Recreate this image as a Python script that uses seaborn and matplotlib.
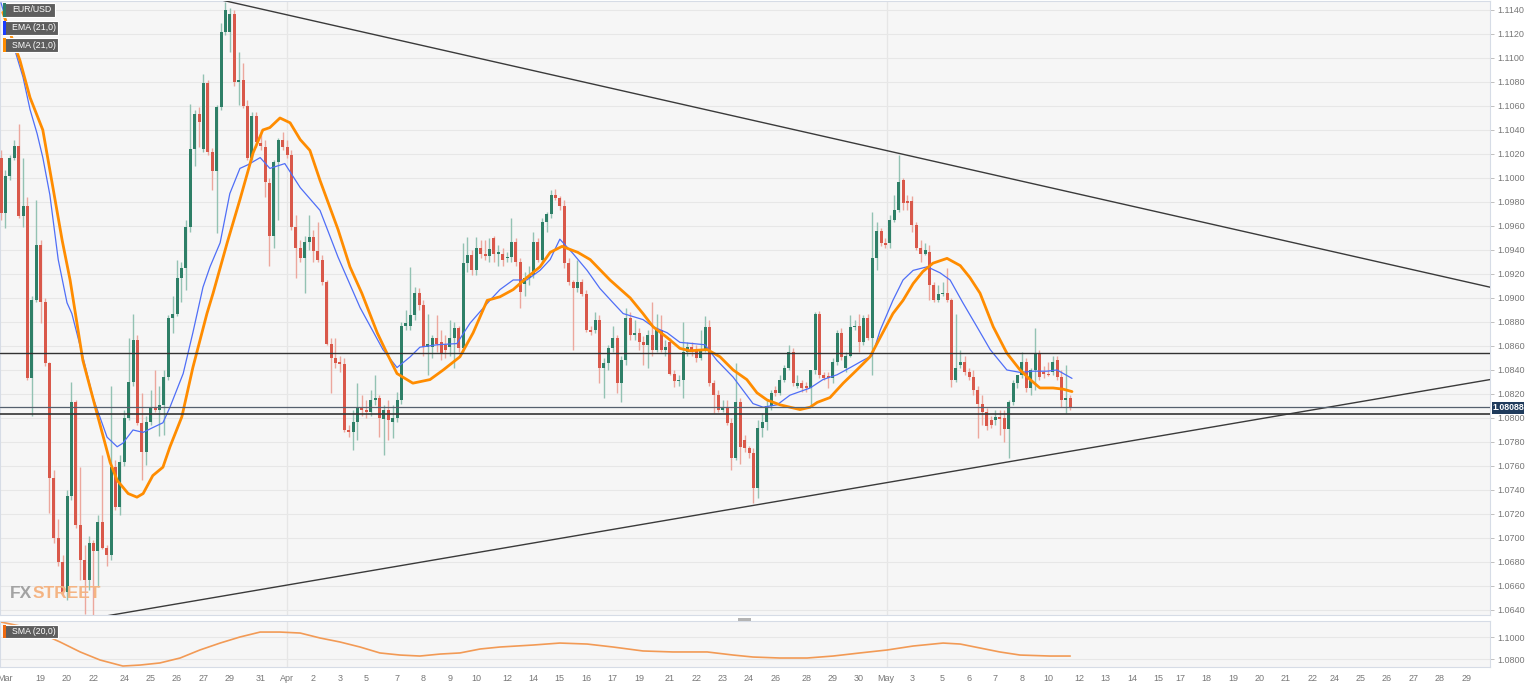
import numpy as np
import pandas as pd
import seaborn as sns
import matplotlib
matplotlib.use("Agg")
import matplotlib.pyplot as plt
from matplotlib.patches import Rectangle

# EUR/USD 4h candles
opens = [1.1017, 1.0971, 1.1002, 1.1017, 1.1027, 1.0968, 1.0977, 1.0833, 1.0898, 1.0944,
         1.0897, 1.0846, 1.0750, 1.0700, 1.0680, 1.0655, 1.0735, 1.0813, 1.0711, 1.0682,
         1.0665, 1.0696, 1.0689, 1.0713, 1.0692, 1.0686, 1.0759, 1.0726, 1.0763, 1.0800,
         1.0830, 1.0865, 1.0796, 1.0772, 1.0797, 1.0808, 1.0807, 1.0811, 1.0834, 1.0883,
         1.0887, 1.0917, 1.0925, 1.0959, 1.1024, 1.1053, 1.1024, 1.1079, 1.1022, 1.1006,
         1.1059, 1.1122, 1.1122, 1.1137, 1.1080, 1.1082, 1.1060, 1.1017, 1.1052, 1.1029,
         1.1026, 1.0996, 1.0952, 1.1013, 1.1032, 1.1026, 1.1019, 1.0959, 1.0942, 1.0933,
         1.0947, 1.0951, 1.0939, 1.0932, 1.0913, 1.0862, 1.0850, 1.0847, 1.0845, 1.0790,
         1.0788, 1.0797, 1.0809, 1.0807, 1.0805, 1.0815, 1.0817, 1.0799, 1.0807, 1.0797,
         1.0800, 1.0815, 1.0877, 1.0877, 1.0886, 1.0904, 1.0894, 1.0859, 1.0859, 1.0867,
         1.0863, 1.0861, 1.0859, 1.0867, 1.0875, 1.0858, 1.0929, 1.0936, 1.0923, 1.0942,
         1.0937, 1.0935, 1.0950, 1.0937, 1.0937, 1.0933, 1.0934, 1.0947, 1.0930, 1.0912,
         1.0917, 1.0919, 1.0947, 1.0932, 1.0963, 1.0970, 1.0986, 1.0983, 1.0977, 1.0929,
         1.0913, 1.0908, 1.0913, 1.0903, 1.0873, 1.0873, 1.0882, 1.0842, 1.0846, 1.0858,
         1.0867, 1.0829, 1.0848, 1.0883, 1.0869, 1.0871, 1.0863, 1.0861, 1.0869, 1.0857,
         1.0873, 1.0857, 1.0863, 1.0837, 1.0831, 1.0832, 1.0855, 1.0859, 1.0857, 1.0850,
         1.0857, 1.0876, 1.0829, 1.0819, 1.0807, 1.0809, 1.0796, 1.0767, 1.0813, 1.0782,
         1.0775, 1.0771, 1.0742, 1.0792, 1.0797, 1.0810, 1.0823, 1.0821, 1.0832, 1.0842,
         1.0855, 1.0827, 1.0829, 1.0827, 1.0825, 1.0840, 1.0887, 1.0836, 1.0835, 1.0833,
         1.0847, 1.0871, 1.0842, 1.0852, 1.0876, 1.0877, 1.0863, 1.0883, 1.0867, 1.0933,
         1.0956, 1.0946, 1.0946, 1.0965, 1.0973, 1.0998, 1.0981, 1.0981, 1.0961, 1.0942,
         1.0937, 1.0938, 1.0911, 1.0898, 1.0903, 1.0904, 1.0898, 1.0832, 1.0844, 1.0847,
         1.0838, 1.0834, 1.0823, 1.0812, 1.0805, 1.0798, 1.0798, 1.0801, 1.0800, 1.0791,
         1.0813, 1.0829, 1.0836, 1.0847, 1.0825, 1.0840, 1.0854, 1.0838, 1.0837, 1.0838,
         1.0848, 1.0834, 1.0815, 1.0817]
highs = [1.1023, 1.1007, 1.1019, 1.1032, 1.1045, 1.1017, 1.0984, 1.0902, 1.0982, 1.0948,
         1.0900, 1.0847, 1.0757, 1.0716, 1.0686, 1.0740, 1.0830, 1.0815, 1.0759, 1.0694,
         1.0702, 1.0698, 1.0719, 1.0769, 1.0694, 1.0827, 1.0765, 1.0769, 1.0807, 1.0867,
         1.0887, 1.0869, 1.0821, 1.0802, 1.0823, 1.0840, 1.0827, 1.0840, 1.0886, 1.0902,
         1.0932, 1.0930, 1.0965, 1.1062, 1.1057, 1.1059, 1.1087, 1.1082, 1.1025, 1.1061,
         1.1129, 1.1147, 1.1142, 1.1140, 1.1105, 1.1096, 1.1065, 1.1055, 1.1055, 1.1040,
         1.1032, 1.1000, 1.1015, 1.1033, 1.1038, 1.1032, 1.1023, 1.0969, 1.0948, 1.0952,
         1.0969, 1.0957, 1.0963, 1.0936, 1.0915, 1.0867, 1.0867, 1.0852, 1.0850, 1.0794,
         1.0807, 1.0829, 1.0819, 1.0815, 1.0823, 1.0836, 1.0819, 1.0811, 1.0815, 1.0811,
         1.0822, 1.0880, 1.0890, 1.0926, 1.0909, 1.0908, 1.0898, 1.0887, 1.0869, 1.0886,
         1.0873, 1.0869, 1.0882, 1.0880, 1.0877, 1.0946, 1.0951, 1.0940, 1.0951, 1.0948,
         1.0948, 1.0950, 1.0952, 1.0944, 1.0942, 1.0938, 1.0967, 1.0950, 1.0933, 1.0922,
         1.0927, 1.0955, 1.0950, 1.0967, 1.0972, 1.0990, 1.0991, 1.0985, 1.0982, 1.0933,
         1.0915, 1.0932, 1.0916, 1.0907, 1.0877, 1.0888, 1.0886, 1.0850, 1.0861, 1.0877,
         1.0869, 1.0852, 1.0892, 1.0888, 1.0882, 1.0875, 1.0868, 1.0873, 1.0897, 1.0887,
         1.0886, 1.0865, 1.0867, 1.0840, 1.0836, 1.0880, 1.0863, 1.0863, 1.0861, 1.0873,
         1.0885, 1.0882, 1.0832, 1.0823, 1.0815, 1.0815, 1.0800, 1.0846, 1.0817, 1.0786,
         1.0777, 1.0775, 1.0798, 1.0804, 1.0815, 1.0823, 1.0827, 1.0836, 1.0844, 1.0861,
         1.0858, 1.0836, 1.0832, 1.0830, 1.0840, 1.0888, 1.0889, 1.0838, 1.0838, 1.0850,
         1.0873, 1.0875, 1.0855, 1.0886, 1.0882, 1.0887, 1.0886, 1.0887, 1.0972, 1.0963,
         1.0958, 1.0950, 1.0969, 1.0986, 1.1019, 1.1000, 1.0986, 1.0985, 1.0963, 1.0948,
         1.0946, 1.0944, 1.0913, 1.0911, 1.0913, 1.0925, 1.0900, 1.0887, 1.0857, 1.0852,
         1.0842, 1.0840, 1.0827, 1.0819, 1.0808, 1.0802, 1.0807, 1.0807, 1.0807, 1.0815,
         1.0832, 1.0836, 1.0855, 1.0850, 1.0842, 1.0875, 1.0857, 1.0843, 1.0847, 1.0852,
         1.0852, 1.0840, 1.0844, 1.0819]
lows = [1.0965, 1.0958, 1.0998, 1.1015, 1.0967, 1.0959, 1.0832, 1.0802, 1.0897, 1.0879,
        1.0843, 1.0721, 1.0696, 1.0677, 1.0652, 1.0648, 1.0732, 1.0708, 1.0665, 1.0637,
        1.0657, 1.0636, 1.0659, 1.0691, 1.0677, 1.0682, 1.0723, 1.0719, 1.0760, 1.0798,
        1.0827, 1.0794, 1.0748, 1.0761, 1.0794, 1.0805, 1.0785, 1.0786, 1.0832, 1.0871,
        1.0885, 1.0897, 1.0907, 1.0955, 1.1010, 1.1026, 1.1022, 1.1019, 1.0990, 1.0954,
        1.1057, 1.1119, 1.1105, 1.1077, 1.1061, 1.1058, 1.1015, 1.1015, 1.1026, 1.1023,
        1.0984, 1.0927, 1.0942, 1.0965, 1.1023, 1.1017, 1.0957, 1.0917, 1.0930, 1.0904,
        1.0940, 1.0930, 1.0930, 1.0911, 1.0861, 1.0821, 1.0842, 1.0838, 1.0788, 1.0784,
        1.0773, 1.0782, 1.0802, 1.0800, 1.0802, 1.0811, 1.0784, 1.0769, 1.0782, 1.0783,
        1.0797, 1.0812, 1.0873, 1.0873, 1.0882, 1.0890, 1.0852, 1.0836, 1.0850, 1.0855,
        1.0848, 1.0850, 1.0852, 1.0842, 1.0855, 1.0855, 1.0922, 1.0919, 1.0919, 1.0933,
        1.0932, 1.0930, 1.0930, 1.0927, 1.0927, 1.0930, 1.0930, 1.0927, 1.0892, 1.0902,
        1.0911, 1.0917, 1.0930, 1.0930, 1.0955, 1.0967, 1.0982, 1.0973, 1.0925, 1.0911,
        1.0857, 1.0905, 1.0902, 1.0872, 1.0869, 1.0871, 1.0829, 1.0817, 1.0840, 1.0855,
        1.0821, 1.0813, 1.0844, 1.0865, 1.0865, 1.0857, 1.0844, 1.0842, 1.0852, 1.0855,
        1.0855, 1.0852, 1.0836, 1.0826, 1.0827, 1.0817, 1.0852, 1.0852, 1.0847, 1.0848,
        1.0855, 1.0827, 1.0804, 1.0805, 1.0805, 1.0794, 1.0757, 1.0765, 1.0762, 1.0772,
        1.0767, 1.0729, 1.0733, 1.0784, 1.0790, 1.0807, 1.0818, 1.0819, 1.0830, 1.0840,
        1.0827, 1.0825, 1.0822, 1.0822, 1.0811, 1.0837, 1.0833, 1.0832, 1.0825, 1.0829,
        1.0844, 1.0848, 1.0838, 1.0851, 1.0873, 1.0855, 1.0861, 1.0865, 1.0836, 1.0923,
        1.0943, 1.0942, 1.0942, 1.0963, 1.0972, 1.0973, 1.0973, 1.0955, 1.0940, 1.0930,
        1.0936, 1.0898, 1.0897, 1.0897, 1.0902, 1.0897, 1.0826, 1.0830, 1.0842, 1.0836,
        1.0832, 1.0819, 1.0783, 1.0794, 1.0790, 1.0792, 1.0794, 1.0786, 1.0780, 1.0767,
        1.0811, 1.0825, 1.0833, 1.0822, 1.0819, 1.0823, 1.0832, 1.0833, 1.0835, 1.0836,
        1.0832, 1.0809, 1.0804, 1.0807]
closes = [1.0971, 1.1002, 1.1017, 1.1027, 1.0968, 1.0977, 1.0833, 1.0898, 1.0944, 1.0897,
          1.0846, 1.0750, 1.0700, 1.0680, 1.0655, 1.0735, 1.0813, 1.0711, 1.0682, 1.0665,
          1.0696, 1.0689, 1.0713, 1.0692, 1.0686, 1.0759, 1.0726, 1.0763, 1.0800, 1.0830,
          1.0865, 1.0796, 1.0772, 1.0797, 1.0808, 1.0807, 1.0811, 1.0834, 1.0883, 1.0887,
          1.0917, 1.0925, 1.0959, 1.1024, 1.1053, 1.1047, 1.1079, 1.1022, 1.1006, 1.1059,
          1.1122, 1.1140, 1.1137, 1.1080, 1.1082, 1.1060, 1.1017, 1.1052, 1.1030, 1.1027,
          1.0997, 1.0952, 1.1013, 1.1032, 1.1026, 1.1019, 1.0959, 1.0942, 1.0933, 1.0947,
          1.0951, 1.0939, 1.0932, 1.0913, 1.0862, 1.0850, 1.0846, 1.0845, 1.0790, 1.0788,
          1.0797, 1.0809, 1.0807, 1.0805, 1.0815, 1.0817, 1.0800, 1.0807, 1.0798, 1.0800,
          1.0815, 1.0877, 1.0879, 1.0886, 1.0904, 1.0894, 1.0859, 1.0862, 1.0867, 1.0862,
          1.0854, 1.0857, 1.0867, 1.0875, 1.0858, 1.0929, 1.0936, 1.0923, 1.0942, 1.0937,
          1.0935, 1.0941, 1.0937, 1.0938, 1.0932, 1.0934, 1.0947, 1.0930, 1.0905, 1.0917,
          1.0919, 1.0947, 1.0932, 1.0963, 1.0970, 1.0986, 1.0983, 1.0977, 1.0929, 1.0913,
          1.0908, 1.0913, 1.0903, 1.0873, 1.0872, 1.0882, 1.0842, 1.0846, 1.0858, 1.0867,
          1.0829, 1.0848, 1.0883, 1.0869, 1.0871, 1.0863, 1.0861, 1.0869, 1.0857, 1.0873,
          1.0857, 1.0859, 1.0837, 1.0831, 1.0832, 1.0855, 1.0859, 1.0855, 1.0850, 1.0857,
          1.0876, 1.0829, 1.0819, 1.0807, 1.0809, 1.0796, 1.0767, 1.0813, 1.0776, 1.0775,
          1.0771, 1.0742, 1.0792, 1.0797, 1.0810, 1.0821, 1.0821, 1.0832, 1.0842, 1.0855,
          1.0829, 1.0829, 1.0825, 1.0825, 1.0840, 1.0887, 1.0836, 1.0833, 1.0833, 1.0847,
          1.0871, 1.0851, 1.0852, 1.0876, 1.0877, 1.0863, 1.0883, 1.0867, 1.0933, 1.0956,
          1.0946, 1.0944, 1.0965, 1.0973, 1.0997, 1.0979, 1.0979, 1.0961, 1.0942, 1.0937,
          1.0940, 1.0911, 1.0898, 1.0903, 1.0904, 1.0898, 1.0832, 1.0842, 1.0847, 1.0838,
          1.0834, 1.0823, 1.0812, 1.0805, 1.0793, 1.0794, 1.0801, 1.0799, 1.0791, 1.0813,
          1.0829, 1.0836, 1.0847, 1.0825, 1.0840, 1.0854, 1.0834, 1.0837, 1.0836, 1.0847,
          1.0834, 1.0815, 1.0817, 1.08088]

# moving averages as drawn on the chart (candle index, price)
ema_idx = [0, 2.7, 5.0, 6.6, 8.2, 9.5, 11.1, 13.0, 15.0, 16.1, 18.4, 20.9, 24.1, 26.4, 27.7,
           30.0, 32.3, 34.5, 36.8, 38.4, 41.4, 43.6, 45.9, 47.5, 49.8, 52.0, 54.3, 56.1, 58.9,
           61.1, 64.5, 68.0, 72.5, 76.6, 81.6, 86.8, 90.0, 93.0, 95.2, 99.1, 103.6, 106.6,
           111.1, 113.4, 116.4, 119.5, 122.5, 124.8, 127.0, 130.0, 133.2, 136.1, 139.1, 141.4,
           145.9, 148.2, 151.4, 154.3, 157.3, 160.0, 162.7, 166.4, 170.9, 173.2, 176.4, 179.3,
           181.6, 183.9, 186.8, 190.0, 193.0, 195.9, 198.0, 199.8, 202.7, 205.0, 207.3, 210.5,
           213.4, 215.7, 218.6, 221.8, 224.8, 228.6, 231.6, 234.5, 237.7, 240.0, 243.4]
ema_val = [1.1146, 1.1112, 1.1084, 1.1057, 1.1037, 1.1017, 1.0986, 1.0932, 1.0896, 1.0887,
           1.0854, 1.0817, 1.0784, 1.0776, 1.0779, 1.0790, 1.0788, 1.0792, 1.0796, 1.0809,
           1.0837, 1.0871, 1.0909, 1.0926, 1.0946, 1.0987, 1.1008, 1.1011, 1.1017, 1.1008,
           1.1012, 1.0992, 1.0973, 1.0934, 1.0892, 1.0857, 1.0842, 1.0851, 1.0859, 1.0861,
           1.0862, 1.0879, 1.0898, 1.0907, 1.0915, 1.0915, 1.0923, 1.0932, 1.0949, 1.0937,
           1.0923, 1.0908, 1.0896, 1.0887, 1.0882, 1.0876, 1.0871, 1.0863, 1.0862, 1.0861,
           1.0848, 1.0834, 1.0812, 1.0809, 1.0811, 1.0819, 1.0822, 1.0825, 1.0832, 1.0836,
           1.0842, 1.0848, 1.0852, 1.0873, 1.0898, 1.0915, 1.0923, 1.0926, 1.0921, 1.0915,
           1.0896, 1.0876, 1.0857, 1.0840, 1.0838, 1.0839, 1.0839, 1.0840, 1.0833]
sma_idx = [0.4, 4.3, 6.6, 9.5, 11.8, 13.9, 15.7, 18.6, 21.8, 24.8, 26.4, 28.9, 30.9, 32.3,
           34.5, 36.8, 38.4, 41.1, 43.6, 46.8, 48.2, 51.4, 54.3, 57.3, 59.5, 61.1, 63.4, 65.7,
           68.0, 70.2, 72.5, 76.6, 79.3, 82.0, 85.5, 87.7, 90.0, 93.6, 97.5, 100.5, 104.3,
           107.3, 110.5, 113.4, 116.4, 119.5, 122.5, 124.8, 127.5, 131.1, 133.9, 138.4, 143.0,
           145.9, 148.2, 151.4, 154.3, 156.6, 160.5, 163.4, 166.4, 169.5, 171.8, 174.1, 177.0,
           181.6, 183.9, 185.5, 188.4, 191.4, 194.5, 197.5, 199.8, 202.7, 205.0, 207.3, 209.5,
           211.8, 215.0, 218.0, 220.2, 222.5, 225.5, 228.6, 231.6, 233.9, 236.1, 239.1, 241.4,
           243.4]
sma_val = [1.1138, 1.1098, 1.1067, 1.1040, 1.0992, 1.0948, 1.0915, 1.0848, 1.0804, 1.0763,
           1.0748, 1.0737, 1.0734, 1.0737, 1.0752, 1.0759, 1.0776, 1.0801, 1.0842, 1.0887,
           1.0904, 1.0946, 1.0982, 1.1021, 1.1040, 1.1042, 1.1050, 1.1046, 1.1032, 1.1023,
           1.0998, 1.0957, 1.0926, 1.0904, 1.0871, 1.0854, 1.0837, 1.0829, 1.0832, 1.0840,
           1.0851, 1.0871, 1.0898, 1.0901, 1.0907, 1.0917, 1.0926, 1.0938, 1.0943, 1.0938,
           1.0932, 1.0915, 1.0900, 1.0887, 1.0876, 1.0867, 1.0858, 1.0856, 1.0857, 1.0851,
           1.0840, 1.0832, 1.0821, 1.0815, 1.0811, 1.0807, 1.0809, 1.0813, 1.0817, 1.0829,
           1.0840, 1.0851, 1.0867, 1.0887, 1.0898, 1.0912, 1.0922, 1.0929, 1.0933, 1.0927,
           1.0917, 1.0904, 1.0876, 1.0854, 1.0840, 1.0832, 1.0825, 1.0825, 1.0824, 1.0822]
sma20_idx = [0, 4.3, 8.9, 13.4, 18.0, 22.5, 27.7, 31.6, 36.1, 40.7, 45.2, 49.8, 54.3, 58.9,
             63.4, 68.0, 72.5, 77.0, 81.6, 86.1, 90.7, 95.2, 99.8, 104.3, 108.9, 113.4, 120.9,
             127.0, 133.2, 139.1, 145.9, 152.7, 160.5, 166.4, 170.9, 177.0, 183.2, 189.1,
             195.2, 201.4, 207.3, 214.1, 218.0, 222.5, 227.0, 231.6, 238.4, 243.0]
sma20_val = [1.1136, 1.1100, 1.1036, 1.0955, 1.0864, 1.0791, 1.0736, 1.0745, 1.0764, 1.0809,
             1.0882, 1.0945, 1.1000, 1.1045, 1.1045, 1.1036, 1.0991, 1.0955, 1.0909, 1.0855,
             1.0836, 1.0827, 1.0845, 1.0855, 1.0891, 1.0909, 1.0927, 1.0945, 1.0936, 1.0909,
             1.0873, 1.0864, 1.0864, 1.0836, 1.0818, 1.0809, 1.0809, 1.0827, 1.0855, 1.0882,
             1.0918, 1.0945, 1.0936, 1.0900, 1.0864, 1.0836, 1.0827, 1.0827]

# drawn lines: trend lines and levels
upper_trend_idx = [50.5, 338.4]
upper_trend_val = [1.1148, 1.0909]
lower_trend_idx = [22.3, 338.4]
lower_trend_val = [1.0634, 1.0832]
levels = [1.0854, 1.0803]
last_price = 1.08088

tick_idx = [1, 9, 15, 21, 28, 34, 40, 46, 52, 59, 65, 71, 77, 83, 90, 96, 102, 108, 115,
            121, 127, 133, 139, 145, 152, 158, 164, 170, 176, 183, 189, 195, 201, 207, 214,
            220, 226, 232, 238, 245, 251, 257, 263, 268, 274, 280, 286, 292, 298, 303, 309,
            315, 321, 327, 333]
tick_labels = ['Mar', '19', '20', '22', '24', '25', '26', '27', '29', '31', 'Apr', '2', '3',
               '5', '7', '8', '9', '10', '12', '14', '15', '16', '17', '19', '21', '22', '23',
               '24', '26', '28', '29', '30', 'May', '3', '5', '6', '7', '8', '10', '12', '13',
               '14', '15', '17', '18', '19', '20', '21', '22', '24', '25', '26', '27', '28', '29']
month_idx = [65, 201.3]

df = pd.DataFrame({'open': opens, 'high': highs, 'low': lows, 'close': closes})
df['i'] = np.arange(len(df))
df['up'] = df['close'] >= df['open']

sns.set_style("white")
plt.rcParams['font.family'] = ['Liberation Sans', 'DejaVu Sans']

W, H = 1536, 684
fig = plt.figure(figsize=(W / 100, H / 100), dpi=100)
fig.patch.set_facecolor('white')

def px_ax(x0, y0, x1, y1):
    return fig.add_axes([x0 / W, 1 - y1 / H, (x1 - x0) / W, (y1 - y0) / H])

ax = px_ax(0, 1, 1490, 615)
ax2 = px_ax(0, 621, 1490, 667)
xlim = (-0.23, 338.4)
border = '#d6dce6'
for a in (ax, ax2):
    a.set_facecolor('#f6f6f6')
    a.set_xlim(*xlim)
    for s in a.spines.values():
        s.set_color(border)
        s.set_linewidth(0.8)
    a.yaxis.tick_right()
    a.tick_params(axis='y', length=3, width=0.6, color='#b5b5b5', labelsize=6.5,
                  labelcolor='#777777', pad=2)
    for m in month_idx:
        a.axvline(m, color='#e6e6e6', lw=0.9, zorder=0)

# main panel
ax.set_ylim(1.06358, 1.11475)
yt = np.round(np.arange(1.064, 1.1141, 0.002), 4)
ax.set_yticks(yt)
ax.set_yticklabels([f'{v:.4f}' for v in yt])
for v in yt:
    ax.axhline(v, color='#e7e7e7', lw=0.8, zorder=0)
ax.set_xticks([])

green, red = '#2e7f67', '#d9584a'
green_w, red_w = '#93c2b3', '#eca79d'
col = np.where(df['up'], green, red)
wcol = np.where(df['up'], green_w, red_w)
ax.vlines(df['i'], df['low'], df['high'], colors=wcol, lw=1.0, zorder=2)
body_lo = np.minimum(df['open'], df['close'])
body_h = np.maximum(np.abs(df['close'] - df['open']), 0.00009)
ax.bar(df['i'], body_h, bottom=body_lo, width=0.68, color=col, lw=0, zorder=3)

sns.lineplot(x=ema_idx, y=ema_val, ax=ax, color='#4f6ef7', lw=0.9, estimator=None, zorder=4)
sns.lineplot(x=sma_idx, y=sma_val, ax=ax, color='#ff8c00', lw=2.0, estimator=None, zorder=5)

ax.plot(upper_trend_idx, upper_trend_val, color='#3a3a3a', lw=1.0, zorder=6)
ax.plot(lower_trend_idx, lower_trend_val, color='#3a3a3a', lw=1.0, zorder=6)
ax.axhline(levels[0], color='#333333', lw=1.0, zorder=6)
ax.axhline(levels[1], color='#333333', lw=1.2, zorder=6)
ax.axhline(last_price, color='#55606e', lw=0.9, zorder=6)
ax.set_xlim(*xlim)

# lower panel
ax2.set_ylim(1.07273, 1.11455)
ax2.set_yticks([1.08, 1.10])
ax2.set_yticklabels(['1.0800', '1.1000'])
for v in (1.08, 1.10):
    ax2.axhline(v, color='#e7e7e7', lw=0.8, zorder=0)
sns.lineplot(x=sma20_idx, y=sma20_val, ax=ax2, color='#f29a55', lw=1.2, estimator=None)
ax2.set_xticks(tick_idx)
ax2.set_xticklabels(tick_labels)
ax2.tick_params(axis='x', length=2.5, width=0.6, color='#b5b5b5', labelsize=6.5,
                labelcolor='#777777', pad=2.5)
ax2.set_xlim(*xlim)
for a in (ax, ax2):
    a.set_xlabel('')
    a.set_ylabel('')

# overlays in pixel coordinates
def rect(x0, y0, x1, y1, **kw):
    fig.add_artist(Rectangle((x0 / W, 1 - y1 / H), (x1 - x0) / W, (y1 - y0) / H,
                             transform=fig.transFigure, **kw))

def label_box(x0, y0, x1, y1, txt, strip):
    rect(x0, y0, x1, y1, facecolor='#5e5e5e', edgecolor='white', lw=0.8, zorder=10)
    rect(x0, y0, x0 + 2.5, y1, facecolor=strip, edgecolor='none', zorder=11)
    fig.text((x0 + 9) / W, 1 - (y0 + y1) / 2 / H, txt, color='white', fontsize=6.3,
             va='center', ha='left', zorder=12)

label_box(3, 3, 55, 17, 'EUR/USD', green)
label_box(3, 21, 58, 35, 'EMA (21,0)', '#1a3cff')
label_box(3, 38, 58, 52, 'SMA (21,0)', '#ff8c00')
label_box(3, 625, 58, 638, 'SMA (20,0)', '#f06a10')

# price tag
rect(1492, 402, 1524, 414, facecolor='#1f3b5c', edgecolor='none', zorder=10)
fig.text(1508 / W, 1 - 408 / H, '1.08088', color='white', fontsize=6.3, fontweight='bold',
         ha='center', va='center', zorder=12)

# panel separator handle
rect(738, 617.5, 751, 620.5, facecolor='#b4b4b4', edgecolor='none', zorder=10)

# watermark: "FX" then "STREET" placed right after it
wm = dict(fontsize=12.5, fontweight='bold', fontstretch='condensed',
          family=['Liberation Sans', 'DejaVu Sans'], va='center', ha='left')
t1 = fig.text(10 / W, 1 - 594 / H, 'FX', color='#a3a3a3', **wm)
fig.canvas.draw()
bb = t1.get_window_extent(fig.canvas.get_renderer())
fig.text(bb.x1 / W, 1 - 594 / H, 'STREET', color='#f4b483', **wm)

fig.savefig('out.png', dpi=100)
